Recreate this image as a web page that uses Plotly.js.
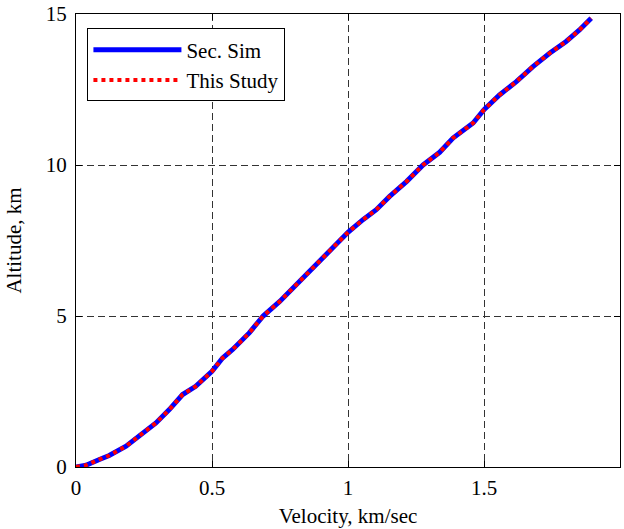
<!DOCTYPE html>
<html>
<head>
<meta charset="utf-8">
<script src="https://cdn.plot.ly/plotly-3.0.1.min.js"></script>
<style>
html, body { margin: 0; padding: 0; background: #fff; }
#chart { width: 624px; height: 529px; }
</style>
</head>
<body>
<div id="chart"></div>
<script>
// Data
var secSimVelocity = [0, 0.037, 0.086, 0.122, 0.184, 0.245, 0.294, 0.343, 0.392, 0.44, 0.5, 0.539, 0.576, 0.637, 0.688, 0.749, 0.811, 0.872, 0.933, 1.0, 1.055, 1.104, 1.153, 1.215, 1.276, 1.337, 1.386, 1.46, 1.5, 1.557, 1.619, 1.68, 1.741, 1.802, 1.851, 1.894];
var secSimAltitude = [0, 0.06, 0.25, 0.38, 0.69, 1.13, 1.46, 1.9, 2.4, 2.67, 3.17, 3.61, 3.89, 4.44, 5.0, 5.48, 6.04, 6.59, 7.14, 7.77, 8.19, 8.52, 8.96, 9.45, 10.0, 10.42, 10.89, 11.39, 11.83, 12.32, 12.76, 13.26, 13.7, 14.09, 14.47, 14.86];
var studyVelocity = [0, 0.037, 0.086, 0.122, 0.184, 0.245, 0.294, 0.343, 0.392, 0.44, 0.5, 0.539, 0.576, 0.637, 0.688, 0.749, 0.811, 0.872, 0.933, 1.0, 1.055, 1.104, 1.153, 1.215, 1.276, 1.337, 1.386, 1.46, 1.5, 1.557, 1.619, 1.68, 1.741, 1.802, 1.851, 1.894];
var studyAltitude = [0, 0.06, 0.25, 0.38, 0.69, 1.13, 1.46, 1.9, 2.4, 2.67, 3.17, 3.61, 3.89, 4.44, 5.0, 5.48, 6.04, 6.59, 7.14, 7.77, 8.19, 8.52, 8.96, 9.45, 10.0, 10.42, 10.89, 11.39, 11.83, 12.32, 12.76, 13.26, 13.7, 14.09, 14.47, 14.86];
var seriesNames = ["Sec. Sim", "This Study"];
var xTickVals = [0, 0.5, 1, 1.5, 2];
var xTickText = ["0", "0.5", "1", "1.5", "2"];
var yTickVals = [0, 5, 10, 15];
var yTickText = ["0", "5", "10", "15"];

var serif = "Liberation Serif, Times New Roman, serif";
var fs = 21;

var traces = [
  { x: secSimVelocity, y: secSimAltitude, name: seriesNames[0], type: "scatter", mode: "lines",
    line: { color: "#0000ff", width: 5 } },
  { x: studyVelocity, y: studyAltitude, name: seriesNames[1], type: "scatter", mode: "lines",
    line: { color: "#ff0000", width: 4, dash: "4px,4px" } }
];

var axisCommon = {
  showline: true, linecolor: "#000", linewidth: 1, mirror: "ticks",
  ticks: "inside", ticklen: 6, tickcolor: "#000", tickwidth: 1,
  showgrid: true, gridcolor: "#333", gridwidth: 1, griddash: "7px,4px",
  zeroline: false,
  tickfont: { family: serif, size: fs, color: "#000" }
};

var layout = {
  width: 624, height: 529,
  margin: { l: 76, r: 4, t: 14, b: 62 },
  paper_bgcolor: "#fff", plot_bgcolor: "#fff",
  showlegend: true,
  xaxis: Object.assign({}, axisCommon, {
    range: [0, 2], tickmode: "array", tickvals: xTickVals, ticktext: xTickText,
    ticklabelstandoff: 2,
    title: { text: "Velocity, km/sec", font: { family: serif, size: fs, color: "#000" }, standoff: 9 }
  }),
  yaxis: Object.assign({}, axisCommon, {
    range: [0, 15], tickmode: "array", tickvals: yTickVals, ticktext: yTickText,
    ticklabelstandoff: 4,
    title: { text: "Altitude, km", font: { family: serif, size: fs, color: "#000" }, standoff: 18 }
  }),
  legend: {
    x: 0.021, y: 0.968, xanchor: "left", yanchor: "top",
    bgcolor: "#fff", bordercolor: "#000", borderwidth: 1,
    font: { family: serif, size: fs, color: "#000" },
    itemwidth: 88
  }
};

Plotly.newPlot("chart", traces, layout, { displayModeBar: false, staticPlot: true });
</script>
</body>
</html>
